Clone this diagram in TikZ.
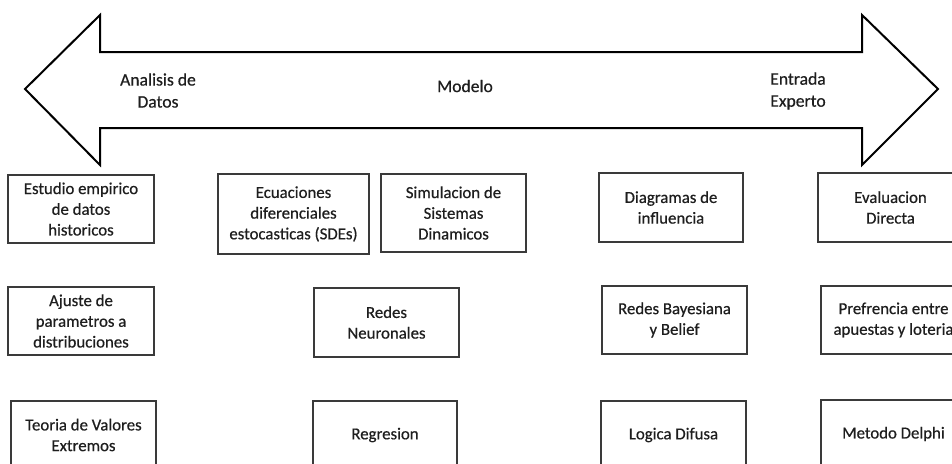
\documentclass[tikz,border=0pt]{standalone}
\usepackage{fontspec}
\setmainfont{Carlito}[FakeBold=0.5]
\definecolor{ink}{HTML}{1E1E1E}
\definecolor{edge}{HTML}{3A3A3A}
\tikzset{
  methodbox/.style={draw=edge, line width=1.3pt, rectangle, align=center,
    inner sep=0pt, text=ink, font=\fontsize{16.8}{20.7}\selectfont},
  bandlabel/.style={align=center, inner sep=0pt, text=ink,
    font=\fontsize{17.6}{22}\selectfont},
  band/.style={draw=black, line width=2pt, line join=miter, fill=white}
}
\begin{document}
\begin{tikzpicture}[x=1pt, y=-1pt]
\useasboundingbox (0,0) rectangle (952,463);
\begin{scope}
\clip (0,0) rectangle (952,463);
\fill[white] (0,0) rectangle (952,463);

% double-headed band across the top
\draw[band] (25,89) -- (100,15) -- (100,52) -- (862,52) -- (862,15)
  -- (938,89) -- (862,165) -- (862,128) -- (100,128) -- (100,165) -- cycle;
\node[bandlabel] (datos)   at (158,90.5) {Analisis de\\Datos};
\node[bandlabel] (modelo)  at (465,86)   {Modelo};
\node[bandlabel] (experto) at (798,91)   {Entrada\\Experto};

% first row
\node[methodbox, minimum width=146pt, minimum height=68pt] (est) at (81,209)
  {Estudio empirico\\de datos\\historicos};
\node[methodbox, minimum width=151pt, minimum height=80pt] (ecu) at (293.5,214)
  {Ecuaciones\\diferenciales\\estocasticas (SDEs)};
\node[methodbox, minimum width=145pt, minimum height=78pt] (sim) at (453.5,213)
  {Simulacion de\\Sistemas\\Dinamicos};
\node[methodbox, minimum width=144pt, minimum height=69pt] (dia) at (671,207.5)
  {Diagramas de\\influencia};
\node[methodbox, minimum width=145pt, minimum height=69pt] (eva) at (890.5,207.5)
  {Evaluacion\\Directa};

% second row
\node[methodbox, minimum width=146pt, minimum height=68pt] (aju) at (81,321)
  {Ajuste de\\parametros a\\distribuciones};
\node[methodbox, minimum width=145pt, minimum height=69pt] (neu) at (386.5,322.5)
  {Redes\\Neuronales};
\node[methodbox, minimum width=145pt, minimum height=68pt] (bay) at (674.5,320)
  {Redes Bayesiana\\y Belief};
\node[methodbox, minimum width=145pt, minimum height=68pt] (pre) at (893.5,320)
  {Prefrencia entre\\apuestas y loteria};

% third row
\node[methodbox, minimum width=145pt, minimum height=68pt] (teo) at (83.5,435)
  {Teoria de Valores\\Extremos};
\node[methodbox, minimum width=144pt, minimum height=68pt] (reg) at (385,435)
  {Regresion};
\node[methodbox, minimum width=145pt, minimum height=68pt] (log) at (673.5,435)
  {Logica Difusa};
\node[methodbox, minimum width=145pt, minimum height=68pt] (met) at (893.5,434)
  {Metodo Delphi};
\end{scope}
\end{tikzpicture}
\end{document}
